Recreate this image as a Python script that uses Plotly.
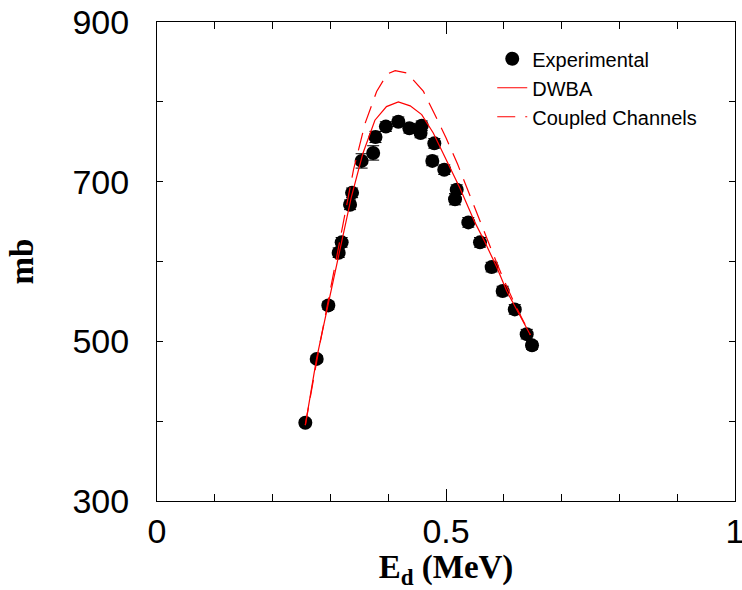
import plotly.graph_objects as go

# Measured cross sections
exp_energy = [0.2566, 0.2763, 0.2964, 0.3143, 0.3195, 0.3340, 0.3375, 0.3540,
              0.3740, 0.3780, 0.3960, 0.4175, 0.4366, 0.4560, 0.4580, 0.4763,
              0.4798, 0.4970, 0.5156, 0.5185, 0.5386, 0.5588, 0.5790, 0.5980,
              0.6190, 0.6396, 0.6488]
exp_sigma = [398, 478, 545, 611, 624, 671, 686, 726,
             736, 756, 769, 775, 767, 761, 770, 726,
             748, 715, 678, 690, 649, 624, 593, 563,
             540, 509, 495]
exp_err = [4, 4, 5, 6, 6, 6, 6, 9,
           9, 7, 6, 6, 6, 6, 6, 6,
           6, 6, 7, 6, 6, 6, 6, 6,
           6, 6, 5]

# DWBA calculation
dwba_energy = [0.2566, 0.276, 0.296, 0.316, 0.336, 0.356, 0.377, 0.397, 0.4175,
               0.438, 0.458, 0.478, 0.501, 0.524, 0.550, 0.5675, 0.5877, 0.605,
               0.646]
dwba_sigma = [395, 478, 546, 614, 680, 735, 777, 794, 800,
              795, 784, 761, 727, 692, 649, 624, 593, 563,
              508]

# Coupled-channels calculation
cc_energy = [0.2566, 0.280, 0.300, 0.320, 0.340, 0.360, 0.380, 0.3985, 0.412,
             0.433, 0.461, 0.480, 0.500, 0.520, 0.540, 0.560, 0.580, 0.600,
             0.620, 0.646]
cc_sigma = [395, 490, 565, 640, 715, 773, 813, 835, 839,
            836, 813, 785, 755, 722, 685, 648, 612, 577,
            545, 508]

fig = go.Figure()

fig.add_trace(go.Scatter(
    x=exp_energy, y=exp_sigma, mode="markers", name="Experimental",
    marker=dict(color="black", size=14),
    error_y=dict(type="data", array=exp_err, color="black", thickness=1, width=6),
))
fig.add_trace(go.Scatter(
    x=dwba_energy, y=dwba_sigma, mode="lines", name="DWBA",
    line=dict(color="red", width=1.2),
))
fig.add_trace(go.Scatter(
    x=cc_energy, y=cc_sigma, mode="lines", name="Coupled Channels",
    line=dict(color="red", width=1.2, dash="18px,10px"),
))

tick_font = dict(family="Liberation Sans, Arial, sans-serif", size=34, color="black")
title_font = dict(family="Liberation Serif, Times New Roman, serif", size=33, color="black")

fig.update_layout(
    width=742, height=590,
    margin=dict(l=157, r=7, t=22, b=89),
    paper_bgcolor="white", plot_bgcolor="white",
    showlegend=True,
    legend=dict(
        x=0.58, y=0.964, xanchor="left", yanchor="top",
        bgcolor="rgba(0,0,0,0)",
        font=dict(family="Liberation Sans, Arial, sans-serif", size=20, color="black"),
        tracegroupgap=0,
    ),
    xaxis=dict(
        range=[0, 1], tickvals=[0, 0.5, 1], ticktext=["0", "0.5", "1"],
        ticks="inside", ticklen=12, tickcolor="black", tickwidth=1,
        minor=dict(dtick=0.1, ticks="inside", ticklen=7, tickcolor="black", tickwidth=1),
        showline=True, linecolor="black", linewidth=1, mirror="allticks",
        showgrid=False, zeroline=False, automargin=False,
        tickfont=tick_font, ticklabeloverflow="allow",
        title=dict(text="<b>E<sub>d</sub> (MeV)</b>", font=title_font, standoff=2),
    ),
    yaxis=dict(
        range=[300, 900], tickvals=[300, 500, 700, 900],
        ticks="inside", ticklen=6, tickcolor="black", tickwidth=1,
        minor=dict(dtick=100, ticks="inside", ticklen=6, tickcolor="black", tickwidth=1),
        showline=True, linecolor="black", linewidth=1, mirror="allticks",
        showgrid=False, zeroline=False, automargin=False,
        tickfont=tick_font, ticklabelstandoff=20, ticklabeloverflow="allow",
        title=dict(text="<b>mb</b>", font=title_font, standoff=28),
    ),
)

fig.write_html("out.html")
